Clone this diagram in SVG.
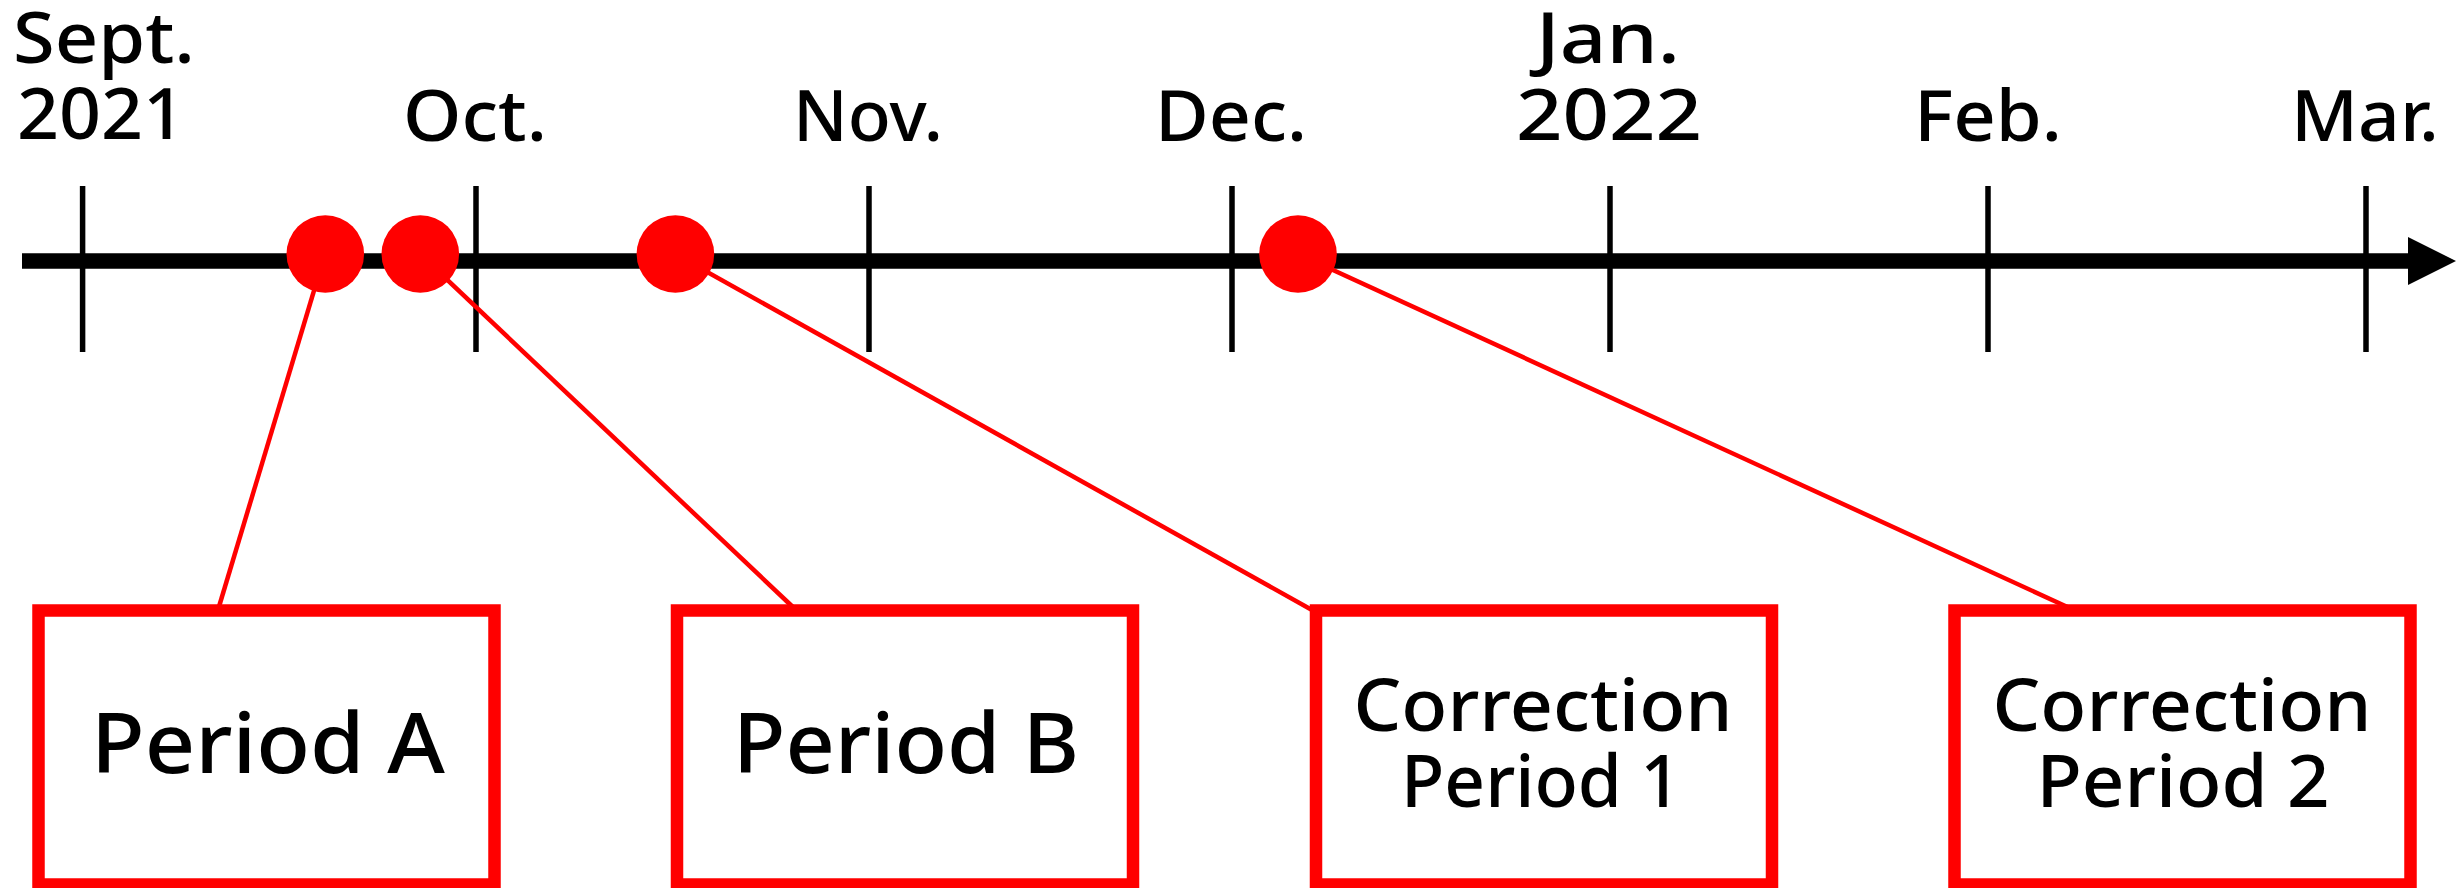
<svg xmlns="http://www.w3.org/2000/svg" width="2463" height="888" viewBox="0 0 2463 888">
<style>
.lbl{font-family:"Noto Sans","Noto Sans CJK JP",sans-serif;font-size:70px;font-weight:500;fill:#000;text-anchor:middle}
.box{fill:#fff;stroke:#ff0000;stroke-width:12.5}
.bt{font-family:"Noto Sans","Noto Sans CJK JP",sans-serif;font-weight:500;fill:#000;text-anchor:middle}
.tick{stroke:#000;stroke-width:5.5}
.lead{stroke:#ff0000;stroke-width:4.5;fill:none}
.dot{fill:#ff0000}
</style>
<g id="axis">
<line x1="22" y1="261" x2="2412" y2="261" stroke="#000" stroke-width="15.5"/>
<polygon points="2408,237 2456,261 2408,285" fill="#000"/>
<line class="tick" x1="82.6" y1="186" x2="82.6" y2="352"/>
<line class="tick" x1="476" y1="186" x2="476" y2="352"/>
<line class="tick" x1="869" y1="186" x2="869" y2="352"/>
<line class="tick" x1="1232" y1="186" x2="1232" y2="352"/>
<line class="tick" x1="1610" y1="186" x2="1610" y2="352"/>
<line class="tick" x1="1988" y1="186" x2="1988" y2="352"/>
<line class="tick" x1="2366" y1="186" x2="2366" y2="352"/>
</g>
<g id="month-labels">
<text class="lbl" x="104" y="63" textLength="182" lengthAdjust="spacingAndGlyphs">Sept.</text>
<text class="lbl" x="101" y="139" textLength="168" lengthAdjust="spacingAndGlyphs">2021</text>
<text class="lbl" x="475" y="141" textLength="144" lengthAdjust="spacingAndGlyphs">Oct.</text>
<text class="lbl" x="868" y="141" textLength="150" lengthAdjust="spacingAndGlyphs">Nov.</text>
<text class="lbl" x="1231" y="141" textLength="152" lengthAdjust="spacingAndGlyphs">Dec.</text>
<text class="lbl" x="1608" y="63" textLength="144" lengthAdjust="spacingAndGlyphs">Jan.</text>
<text class="lbl" x="1609" y="140" textLength="186" lengthAdjust="spacingAndGlyphs">2022</text>
<text class="lbl" x="1988" y="141" textLength="148" lengthAdjust="spacingAndGlyphs">Feb.</text>
<text class="lbl" x="2365" y="141" textLength="148" lengthAdjust="spacingAndGlyphs">Mar.</text>
</g>
<g id="connectors">
<line class="lead" x1="325" y1="254" x2="218" y2="610"/>
<line class="lead" x1="420" y1="254" x2="796" y2="610"/>
<line class="lead" x1="675" y1="254" x2="1312" y2="610"/>
<line class="lead" x1="1298" y1="254" x2="2074" y2="610"/>
</g>
<g id="dots">
<circle class="dot" cx="325.3" cy="254" r="38.8"/>
<circle class="dot" cx="420.3" cy="254" r="38.8"/>
<circle class="dot" cx="675.4" cy="254" r="38.8"/>
<circle class="dot" cx="1298" cy="254" r="38.8"/>
</g>
<g id="period-a">
<rect class="box" x="38.5" y="610.5" width="456" height="274"/>
<text class="bt" x="268" y="773" font-size="84" textLength="354" lengthAdjust="spacingAndGlyphs">Period A</text>
</g>
<g id="period-b">
<rect class="box" x="677" y="610.5" width="456" height="274"/>
<text class="bt" x="906" y="773" font-size="84" textLength="346" lengthAdjust="spacingAndGlyphs">Period B</text>
</g>
<g id="correction-1">
<rect class="box" x="1316" y="610.5" width="456" height="274"/>
<text class="bt" x="1543" y="731" font-size="72" textLength="379" lengthAdjust="spacingAndGlyphs">Correction</text>
<text class="bt" x="1541" y="807" font-size="72" textLength="280" lengthAdjust="spacingAndGlyphs">Period 1</text>
</g>
<g id="correction-2">
<rect class="box" x="1954.5" y="610.5" width="456" height="274"/>
<text class="bt" x="2182" y="731" font-size="72" textLength="379" lengthAdjust="spacingAndGlyphs">Correction</text>
<text class="bt" x="2183" y="807" font-size="72" textLength="293" lengthAdjust="spacingAndGlyphs">Period 2</text>
</g>
</svg>
